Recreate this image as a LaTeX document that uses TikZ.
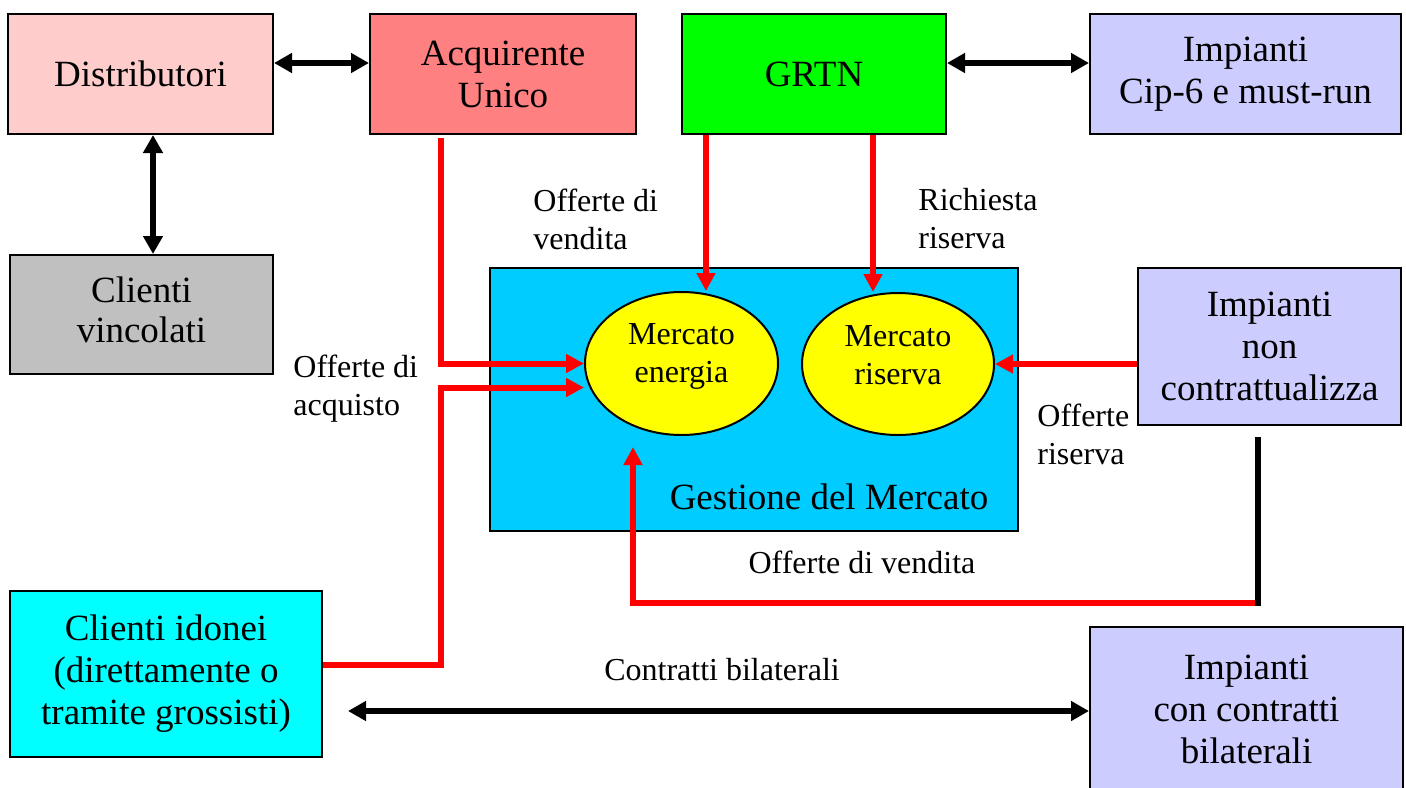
\documentclass[tikz,border=0pt]{standalone}
\usepackage{fontspec}
\setmainfont{Liberation Serif}
\usetikzlibrary{arrows.meta,shapes.geometric}
\definecolor{cpink}{HTML}{FFCCCC}
\definecolor{csalmon}{HTML}{FF8080}
\definecolor{cgreen}{HTML}{00FF00}
\definecolor{clav}{HTML}{CCCCFF}
\definecolor{cgray}{HTML}{C0C0C0}
\definecolor{cblue}{HTML}{00CCFF}
\definecolor{ccyan}{HTML}{00FFFF}
\definecolor{cyel}{HTML}{FFFF00}
\definecolor{cred}{HTML}{FF0000}
\tikzset{
  box/.style={draw=black, line width=1pt, rectangle, inner sep=0pt, align=center,
    font=\fontsize{18.5}{21}\selectfont},
  ellip/.style={draw=black, line width=1pt, ellipse, fill=cyel, inner sep=0pt},
  etext/.style={inner sep=0pt, align=center, font=\fontsize{16}{19}\selectfont},
  lab/.style={inner sep=0pt, align=left, font=\fontsize{16}{19}\selectfont},
  blk/.style={line width=3pt, draw=black, {Triangle[length=9pt,width=9.5pt]}-{Triangle[length=9pt,width=9.5pt]}},
  redarrow/.style={line width=3pt, draw=cred, -{Triangle[length=9pt,width=9pt]}},
  redline/.style={line width=3pt, draw=cred},
  blkline/.style={line width=3pt, draw=black}
}
\begin{document}
\begin{tikzpicture}[x=0.5pt,y=-0.5pt]
\useasboundingbox (0,0) rectangle (1406,787);
% boxes
\node[box, fill=cpink, minimum width=132.5pt, minimum height=60pt] (dist) at (140.5,74) {Distributori};
\node[box, fill=csalmon, minimum width=133pt, minimum height=60pt] (acq) at (503,74) {\raisebox{0pt}{Acquirente}\\Unico};
\node[box, fill=cgreen, minimum width=132pt, minimum height=60pt] (grtn) at (814,74) {GRTN};
\node[box, fill=clav, minimum width=155.5pt, minimum height=60pt] (cip) at (1245.5,74) {Impianti\\Cip-6 e must-run};
\node[box, fill=cgray, minimum width=131.5pt, minimum height=59.5pt] (vinc) at (141.5,314.5) {};
\node[inner sep=0pt, align=center, font=\fontsize{18.5}{20}\selectfont] (vinctext) at (141.5,310) {Clienti\\vincolati};
\node[box, fill=cblue, minimum width=264pt, minimum height=131.5pt] (gest) at (754,399.5) {};
\node[inner sep=0pt, font=\fontsize{18.5}{21}\selectfont] (gestlab) at (829,497) {Gestione del Mercato};
\node[box, fill=clav, minimum width=131.5pt, minimum height=78.5pt] (nonc) at (1269.5,346.5) {Impianti\\non\\contrattualizza};
\node[box, fill=ccyan, minimum width=156pt, minimum height=83pt] (idon) at (166,674) {Clienti idonei\\(direttamente o\\tramite grossisti)};
\node[box, fill=clav, minimum width=156.5pt, minimum height=82pt] (bil) at (1246.5,709) {Impianti\\con contratti\\bilaterali};
% ellipses
\node[ellip, minimum width=96.5pt, minimum height=71.5pt] (en) at (681.5,363.5) {};
\node[etext] (entext) at (681.5,356) {Mercato\\energia};
\node[ellip, minimum width=96pt, minimum height=71pt] (er) at (898,364) {};
\node[etext] (ertext) at (898,355) {Mercato\\riserva};
% labels
\node[lab, anchor=west] (l1) at (533,219) {Offerte di\\vendita};
\node[lab, anchor=west] (l2) at (918,219) {Richiesta\\riserva};
\node[lab, anchor=west] (l3) at (293,389) {Offerte di\\acquisto};
\node[lab, anchor=west] (l4) at (1037,434) {Offerte\\riserva};
\node[lab] (l5) at (862,562) {Offerte di vendita};
\node[lab] (l6) at (722,670) {Contratti bilaterali};
% black double arrows
\draw[blk] ([yshift=5.5pt]dist.east) -- ([yshift=5.5pt]acq.west);
\draw[blk] ([yshift=5.5pt]grtn.east) -- ([yshift=5.5pt]cip.west);
\draw[blk] ([xshift=6.25pt]dist.south) -- ([xshift=6.25pt]dist.south |- vinc.north);
\draw[blk] ([xshift=12.5pt,yshift=-18.5pt]idon.east) -- ([yshift=-1pt]bil.west);
% red arrows
\draw[redarrow] ([xshift=-31pt,yshift=-1.5pt]acq.south) |- (en.west);
\coordinate (jx) at (441,500);
\draw[redarrow] ([yshift=4.5pt]idon.east) -| (jx) |- ([yshift=-12pt]en.west);
\draw[redarrow] ([xshift=-54pt]grtn.south) -- ([xshift=-54pt]grtn.south |- en.north);
\draw[redarrow] ([xshift=29.5pt]grtn.south) -- ([xshift=29.5pt]grtn.south |- er.north);
\draw[redarrow] (nonc.west |- er.east) -- (er.east);
\coordinate (c1) at (1258,603);
\coordinate (c2) at (633,447);
\draw[redarrow] (c1) -| (c2);
\draw[blkline] ([yshift=-5.5pt]nonc.south -| c1) -- ([yshift=-1.5pt]c1);
\end{tikzpicture}
\end{document}
